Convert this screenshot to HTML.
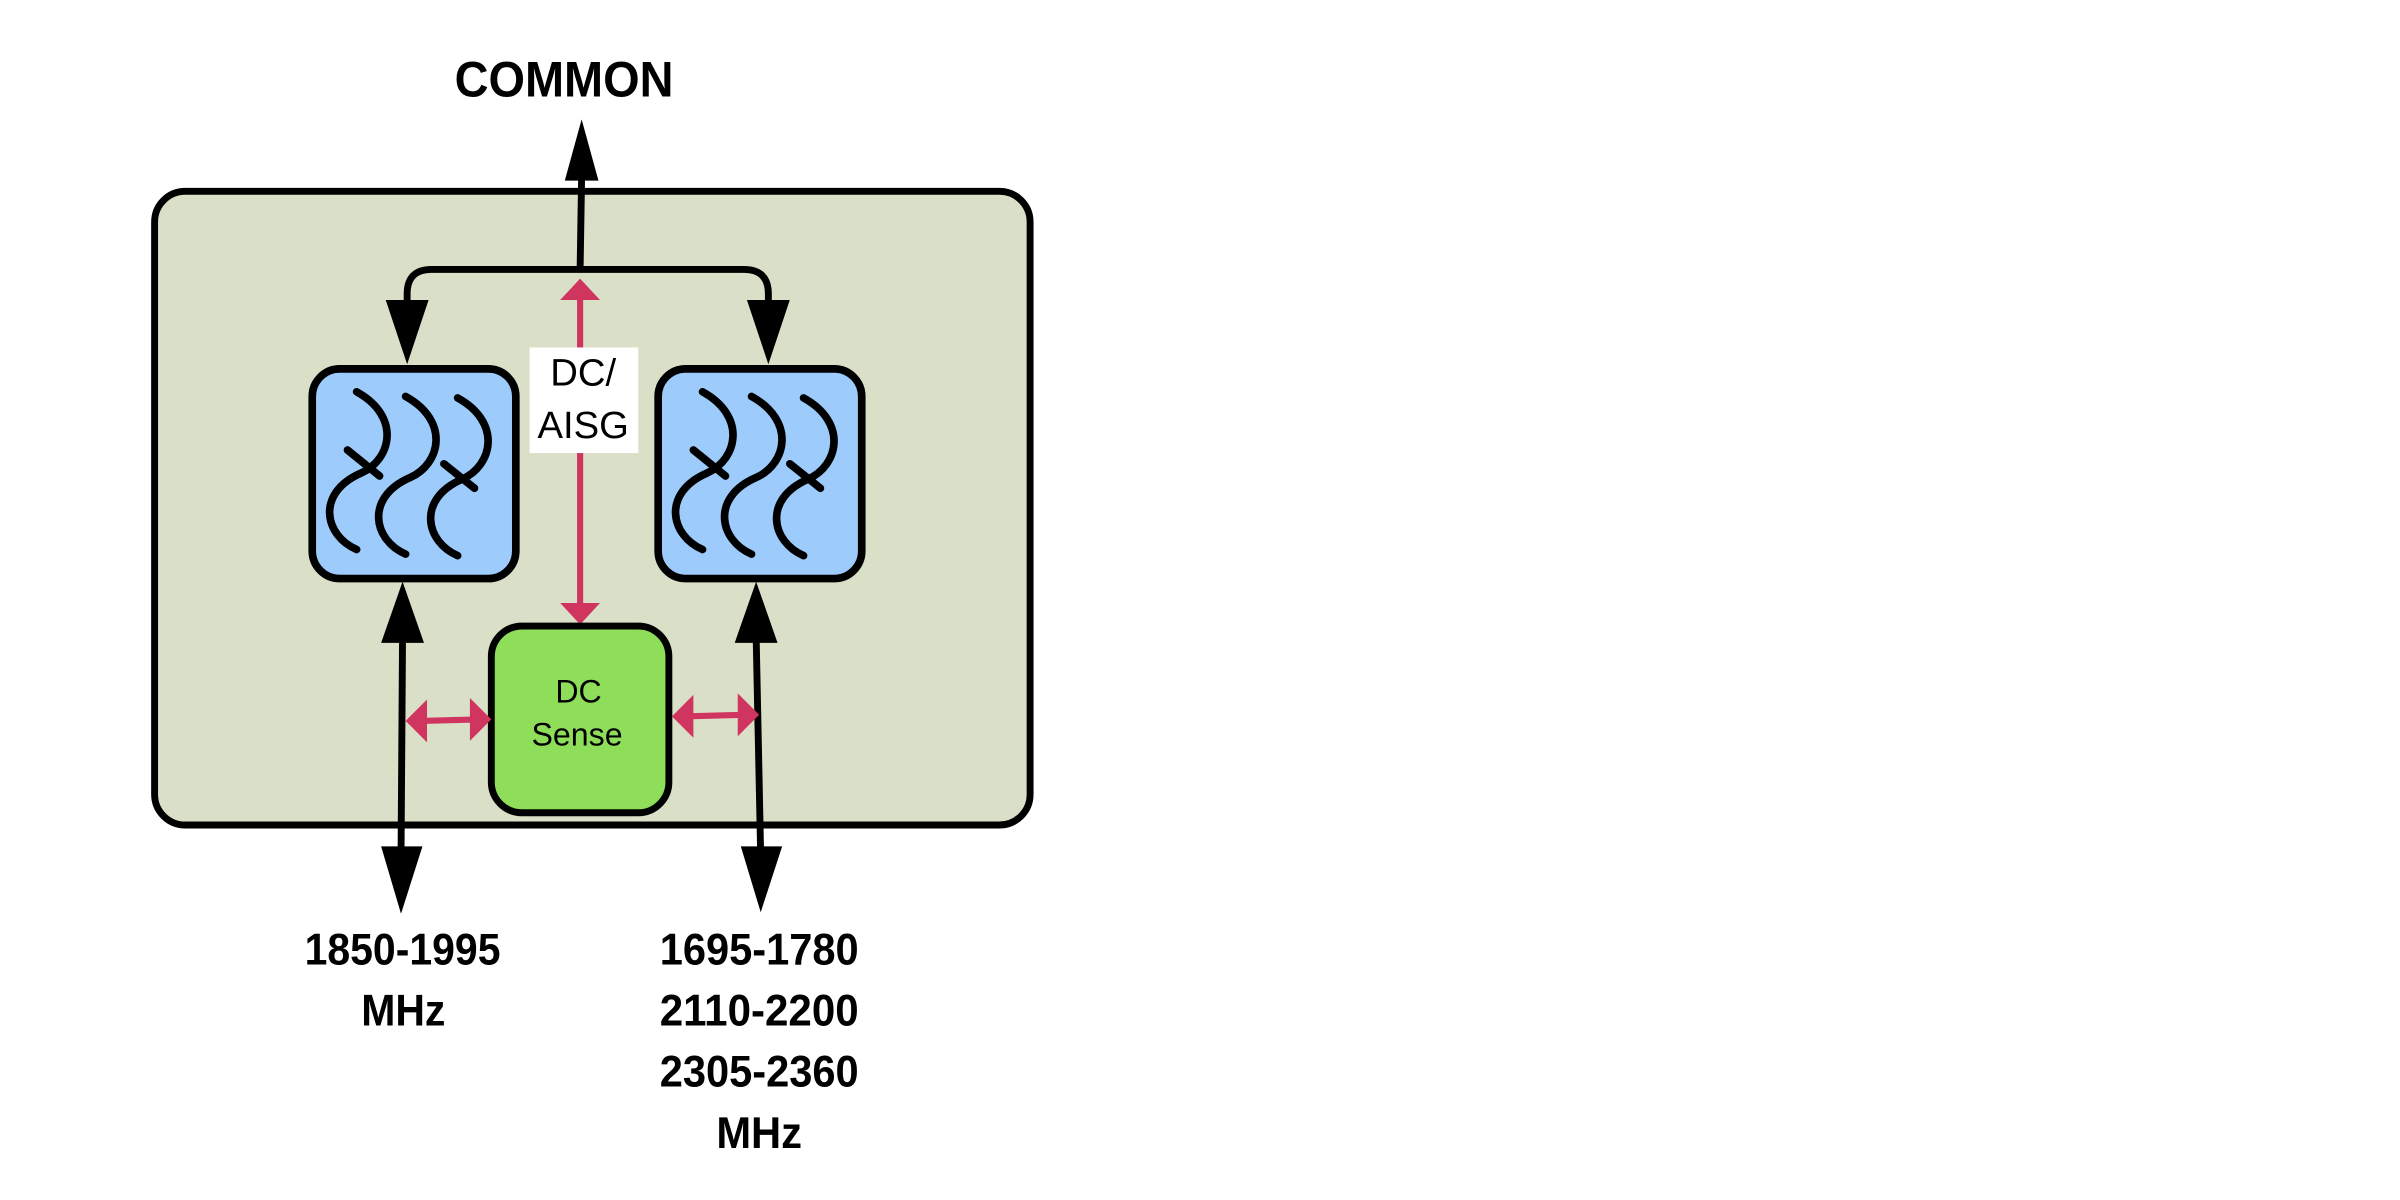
<!DOCTYPE html>
<html><head><meta charset="utf-8"><style>html,body{margin:0;padding:0;background:#fff}svg{display:block}</style></head>
<body>
<svg width="2400" height="1200" viewBox="0 0 1568 784" xmlns="http://www.w3.org/2000/svg">
<rect x="0" y="0" width="1568" height="784" fill="#fff"/>
<rect x="101" y="125" width="572" height="414" rx="20" fill="#dadfc7" stroke="#000" stroke-width="4.5"/>
<!-- top common -->
<line x1="379" y1="176" x2="380" y2="115" stroke="#000" stroke-width="4.5"/>
<polygon points="380,78 369,118 391,118" fill="#000"/>
<path d="M266,200 V192 Q266,176 282,176 H486 Q502,176 502,192 V200" fill="none" stroke="#000" stroke-width="4.5"/>
<polygon points="266,238 252,196 280,196" fill="#000"/>
<polygon points="502,238 488,196 516,196" fill="#000"/>
<!-- red vertical -->
<line x1="379" y1="195" x2="379" y2="396" stroke="#d0355f" stroke-width="4"/>
<polygon points="379,182 366,196 392,196" fill="#d0355f"/>
<polygon points="379,408 366,394 392,394" fill="#d0355f"/>
<rect x="346" y="227" width="71" height="69" fill="#fff"/>
<g font-family="Liberation Sans, sans-serif" font-size="25" text-anchor="middle" fill="#000">
<text x="381" y="252">DC/</text><text x="381" y="286">AISG</text>
</g>
<!-- filters -->
<g stroke="#000" stroke-width="5" fill="none" stroke-linecap="round">
<rect x="204" y="241" width="133" height="137" rx="18" fill="#9dcbfb"/>
<rect x="430" y="241" width="133" height="137" rx="18" fill="#9dcbfb"/>
<g id="w">
<path d="M233,256 C262,272 256,300 236,309 C206,322 212,350 233,359"/>
<path d="M265,259 C294,275 288,303 268,312 C238,325 244,353 265,362"/>
<path d="M299,260 C328,276 322,304 302,313 C272,326 278,354 299,363"/>
<line x1="227" y1="294" x2="248" y2="311"/>
<line x1="290" y1="303" x2="310" y2="319"/>
</g>
<use href="#w" transform="translate(226,0)"/>
</g>
<!-- DC sense -->
<rect x="321" y="409" width="116" height="122" rx="20" fill="#8ede5a" stroke="#000" stroke-width="4.5"/>
<g font-family="Liberation Sans, sans-serif" font-size="21" text-anchor="middle" fill="#000">
<text x="378" y="459">DC</text><text x="377" y="487">Sense</text>
</g>
<!-- left vertical -->
<line x1="263" y1="415" x2="262" y2="560" stroke="#000" stroke-width="4.5"/>
<polygon points="263,380 249,420 277,420" fill="#000"/>
<polygon points="262,597 249,553 276,553" fill="#000"/>
<!-- right vertical -->
<line x1="494" y1="415" x2="497" y2="560" stroke="#000" stroke-width="4.5"/>
<polygon points="494,380 480,420 508,420" fill="#000"/>
<polygon points="497,596 484,553 511,553" fill="#000"/>
<!-- red horizontals -->
<g fill="#d0355f">
<line x1="275" y1="471" x2="312" y2="470" stroke="#d0355f" stroke-width="4"/>
<polygon points="265,471 279,457 279,485"/>
<polygon points="321,470 307,456 307,484"/>
<line x1="449" y1="468" x2="486" y2="467" stroke="#d0355f" stroke-width="4"/>
<polygon points="439,468 453,454 453,482"/>
<polygon points="496,467 482,453 482,481"/>
</g>
<!-- labels -->
<g font-family="Liberation Sans, sans-serif" font-weight="bold" font-size="29" fill="#000">
<text x="297" y="63" font-size="33" textLength="143" lengthAdjust="spacingAndGlyphs">COMMON</text>
<text x="199" y="630" textLength="128" lengthAdjust="spacingAndGlyphs">1850-1995</text>
<text x="236" y="670" textLength="55" lengthAdjust="spacingAndGlyphs">MHz</text>
<text x="431" y="630" textLength="130" lengthAdjust="spacingAndGlyphs">1695-1780</text>
<text x="431" y="670" textLength="130" lengthAdjust="spacingAndGlyphs">2110-2200</text>
<text x="431" y="710" textLength="130" lengthAdjust="spacingAndGlyphs">2305-2360</text>
<text x="468" y="750" textLength="56" lengthAdjust="spacingAndGlyphs">MHz</text>
</g>
</svg>
</body></html>
